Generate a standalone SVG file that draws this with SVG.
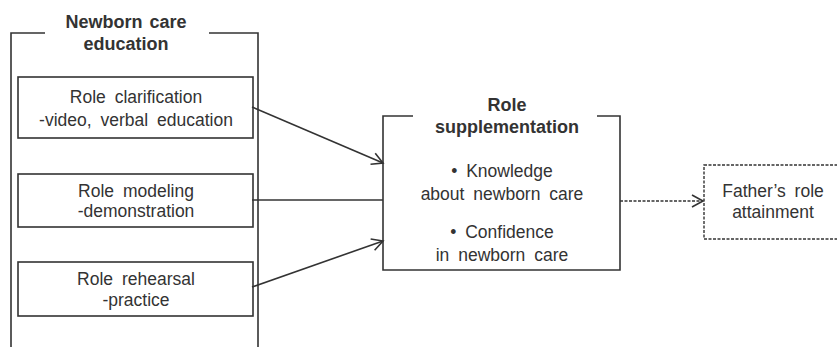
<svg xmlns="http://www.w3.org/2000/svg" width="837" height="347" viewBox="0 0 837 347">
<defs>
<style>
.t{font-family:"Liberation Sans",Arial,sans-serif;font-size:17.5px;fill:#333;text-anchor:middle;word-spacing:4px}
.b{font-weight:bold;font-size:18px;word-spacing:2px}
.l{fill:none;stroke:#333;stroke-width:1.6}
.d{fill:none;stroke:#333;stroke-width:1.4;stroke-dasharray:3,1.5}
</style>
<marker id="ah" markerWidth="14" markerHeight="14" refX="12" refY="7" orient="auto" markerUnits="userSpaceOnUse">
<path d="M1,1 L12,7 L1,13" fill="none" stroke="#333" stroke-width="1.6"/>
</marker>
</defs>
<rect width="837" height="347" fill="#fff"/>
<g id="education">
<path class="l" d="M45,33 H11 V347 M209,33 H258 V347"/>
<text class="t b" x="126" y="28">Newborn care</text>
<text class="t b" x="126" y="50">education</text>
</g>
<g id="clarification">
<rect class="l" x="18" y="77" width="235" height="61"/>
<text class="t" x="136" y="103">Role clarification</text>
<text class="t" x="136" y="126">-video, verbal education</text>
</g>
<g id="modeling">
<rect class="l" x="18" y="174" width="235" height="53"/>
<text class="t" x="136" y="197">Role modeling</text>
<text class="t" x="136" y="217">-demonstration</text>
</g>
<g id="rehearsal">
<rect class="l" x="18" y="262" width="235" height="54"/>
<text class="t" x="136" y="285">Role rehearsal</text>
<text class="t" x="136" y="306">-practice</text>
</g>
<g id="supplementation">
<path class="l" d="M413,116 H383 V270 H620 V116 H597"/>
<text class="t b" x="507" y="111">Role</text>
<text class="t b" x="507" y="133">supplementation</text>
<text class="t" x="502" y="177">• Knowledge</text>
<text class="t" x="502" y="200">about newborn care</text>
<text class="t" x="502" y="238">• Confidence</text>
<text class="t" x="502" y="261">in newborn care</text>
</g>
<g id="attainment">
<rect class="d" x="704" y="165" width="140" height="74"/>
<text class="t" x="773" y="197">Father’s role</text>
<text class="t" x="773" y="218">attainment</text>
</g>
<g id="connectors">
<line class="l" x1="252" y1="107" x2="383" y2="163" marker-end="url(#ah)"/>
<line class="l" x1="252" y1="200" x2="383" y2="200"/>
<line class="l" x1="252" y1="287" x2="383" y2="241" marker-end="url(#ah)"/>
<line class="d" x1="620" y1="201" x2="703" y2="201" marker-end="url(#ah)"/>
</g>
</svg>
